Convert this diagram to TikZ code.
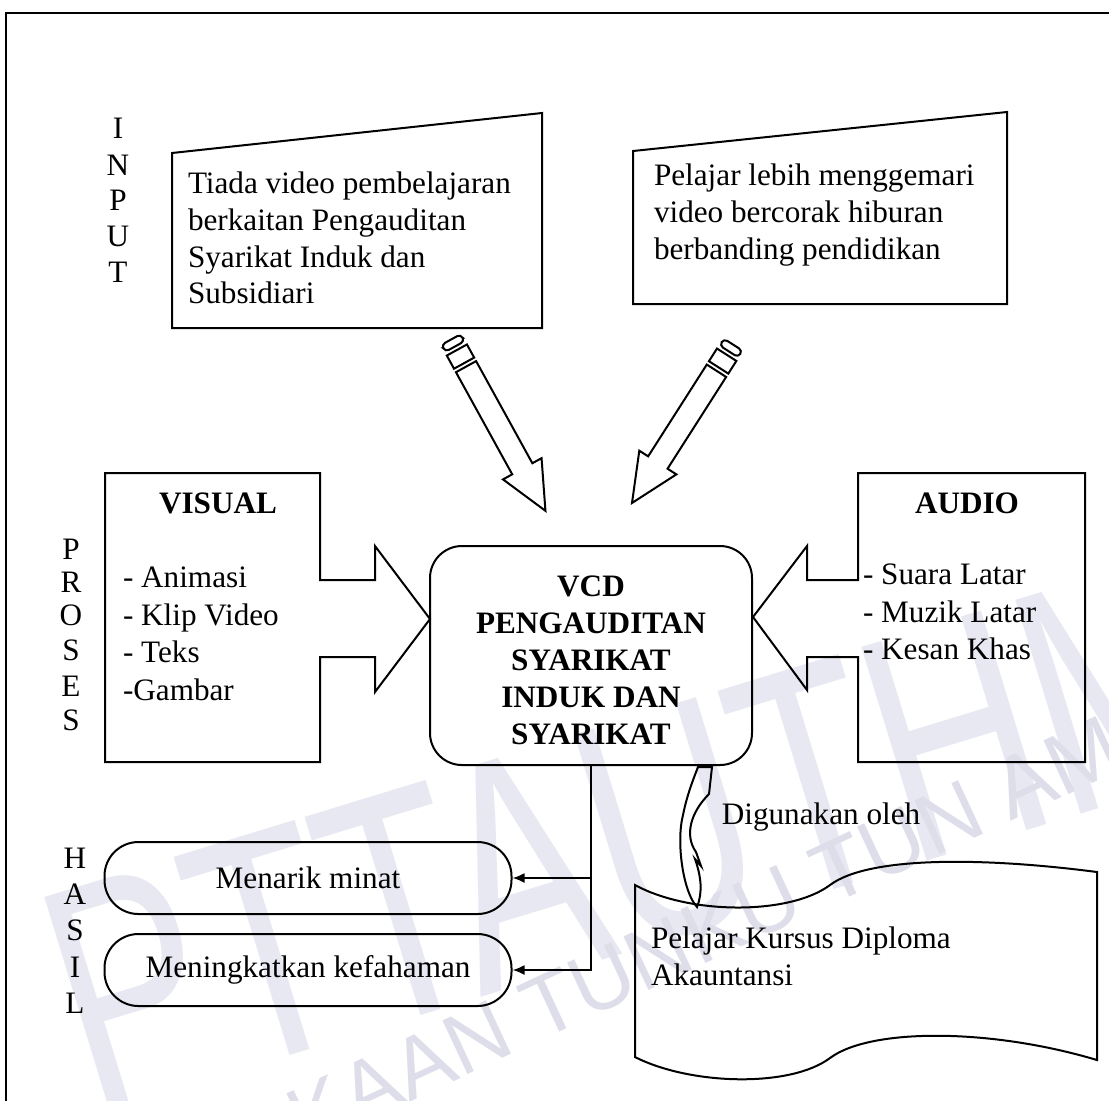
\documentclass[tikz,border=0pt]{standalone}
\usepackage{fontspec}
\setmainfont{Liberation Serif}
\newfontfamily\wmfont{Liberation Sans}
\usetikzlibrary{arrows.meta,calc}
\definecolor{wmA}{RGB}{232,232,242}
\definecolor{wmB}{RGB}{222,222,234}
\begin{document}
\begin{tikzpicture}[x=0.5pt,y=-0.5pt,line width=1pt,
  txt/.style={font=\fontsize{15.6}{18.4}\selectfont,inner sep=0pt},
  btxt/.style={font=\fontsize{15.6}{18.5}\selectfont\bfseries,inner sep=0pt},
  lbl/.style={font=\fontsize{15.6}{18}\selectfont,inner sep=0pt},
  tip/.style={-{Latex[length=6pt,width=5pt]}},
  stadium/.style={draw,rounded corners=17pt,minimum width=203.5pt,minimum height=36pt,txt},
  pics/pencil/.style={code={
    \draw[rounded corners=2pt] (-4,-11) rectangle (4,11);
    \draw (8,-11.5) rectangle (23,11.5);
    \draw (27,-11.5) -- ({#1-48},-11.5) -- ({#1-48},-22) -- (#1,0) -- ({#1-48},22) -- ({#1-48},11.5) -- (27,11.5) -- cycle;
  }}]
\useasboundingbox (0,0) rectangle (1109,1100);
\clip (0,0) rectangle (1109,1100);
% watermark
\node[text=wmA,font=\wmfont\fontsize{112}{112}\selectfont,rotate=17,inner sep=0pt] (wmbig) at (635,835) {\scalebox{1}[1.45]{PTTAUTHM}};
\node[text=wmB,font=\wmfont\fontsize{43}{43}\selectfont,rotate=25,inner sep=0pt] (wmsmall) at (590,985) {PERPUSTAKAAN TUNKU TUN AMINAH};
% frame
\draw (6,13) rectangle (1150,1150);
% side labels
\foreach \t/\yy [count=\i] in {I/128,N/165,P/200,U/236,T/272}
  \node[lbl] (in\i) at (118,\yy) {\t};
\foreach \t/\yy [count=\i] in {P/549,R/582,O/615,S/650,E/686,S/720}
  \node[lbl] (pr\i) at (71,\yy) {\t};
\foreach \t/\yy [count=\i] in {H/858,A/894,S/930,I/967,L/1003}
  \node[lbl] (ha\i) at (75,\yy) {\t};
% input boxes
\draw (172,153) -- (542,113) -- (542,328) -- (172,328) -- cycle;
\node[txt,align=left,anchor=west] (inA) at (187,238) {Tiada video pembelajaran\\berkaitan Pengauditan\\Syarikat Induk dan\\Subsidiari};
\draw (633,151) -- (1007,112) -- (1007,304) -- (633,304) -- cycle;
\node[txt,align=left,anchor=west] (inB) at (653,215) {Pelajar lebih menggemari\\video bercorak hiburan\\berbanding pendidikan};
% pencils
\pic[rotate=-61.15] (penL) at (453,343) {pencil=191.6};
\pic[rotate=-122.57] (penR) at (731,348) {pencil=183.9};
% central box
\node[draw,rounded corners=16pt,minimum width=161pt,minimum height=109.5pt,inner sep=0pt] (vcd) at (591,655.5) {};
\node[btxt,align=center] (vcdt) at (591,660) {VCD\\PENGAUDITAN\\SYARIKAT\\INDUK DAN\\SYARIKAT};
% visual box with block arrow
\draw (320,580) -- (320,473) -- (105,473) -- (105,762) -- (320,762) -- (320,657) -- (375,657) -- (375,692) -- (430,619) -- (375,546) -- (375,580) -- cycle;
\node[btxt] (vis) at (218,503) {VISUAL};
\node[txt,align=left,anchor=west,font=\fontsize{15.6}{18.8}\selectfont] (visl) at (122,634) {- Animasi\\- Klip Video\\- Teks\\-Gambar};
% audio box with block arrow
\draw (858,580) -- (858,473) -- (1085,473) -- (1085,762) -- (858,762) -- (858,657) -- (807,657) -- (807,690) -- (753,617) -- (807,546) -- (807,580) -- cycle;
\node[btxt] (aud) at (967,503) {AUDIO};
\node[txt,align=left,anchor=west,font=\fontsize{15.6}{18.8}\selectfont] (audl) at (862,612) {- Suara Latar\\- Muzik Latar\\- Kesan Khas};
% outcomes
\node[stadium] (menarik) at (308,878) {Menarik minat};
\node[stadium] (mening) at (308,970) {Meningkatkan kefahaman};
\draw[tip] (vcd.south) |- (menarik.east);
\draw[tip] (vcd.south) |- (mening.east);
% curved callout
\draw (698,767) -- (712,767) -- (709,794)
  .. controls (691,812) and (684,835) .. (696,852) -- (701,866) -- (695,859)
  .. controls (701,876) and (703,892) .. (697,907)
  .. controls (683,892) and (676,842) .. (683,815)
  .. controls (687,795) and (693,780) .. (698,767) -- cycle;
\node[txt] (use) at (821,817) {Digunakan oleh};
% document shape
\draw (635,885) .. controls (690,915) and (790,915) .. (830,885)
  .. controls (870,855) and (990,858) .. (1097,872) -- (1097,1060)
  .. controls (990,1028) and (870,1028) .. (830,1058)
  .. controls (790,1088) and (690,1085) .. (635,1057) -- cycle;
\node[txt,align=left,anchor=west] (doc) at (650,956) {Pelajar Kursus Diploma\\Akauntansi};
\end{tikzpicture}
\end{document}
